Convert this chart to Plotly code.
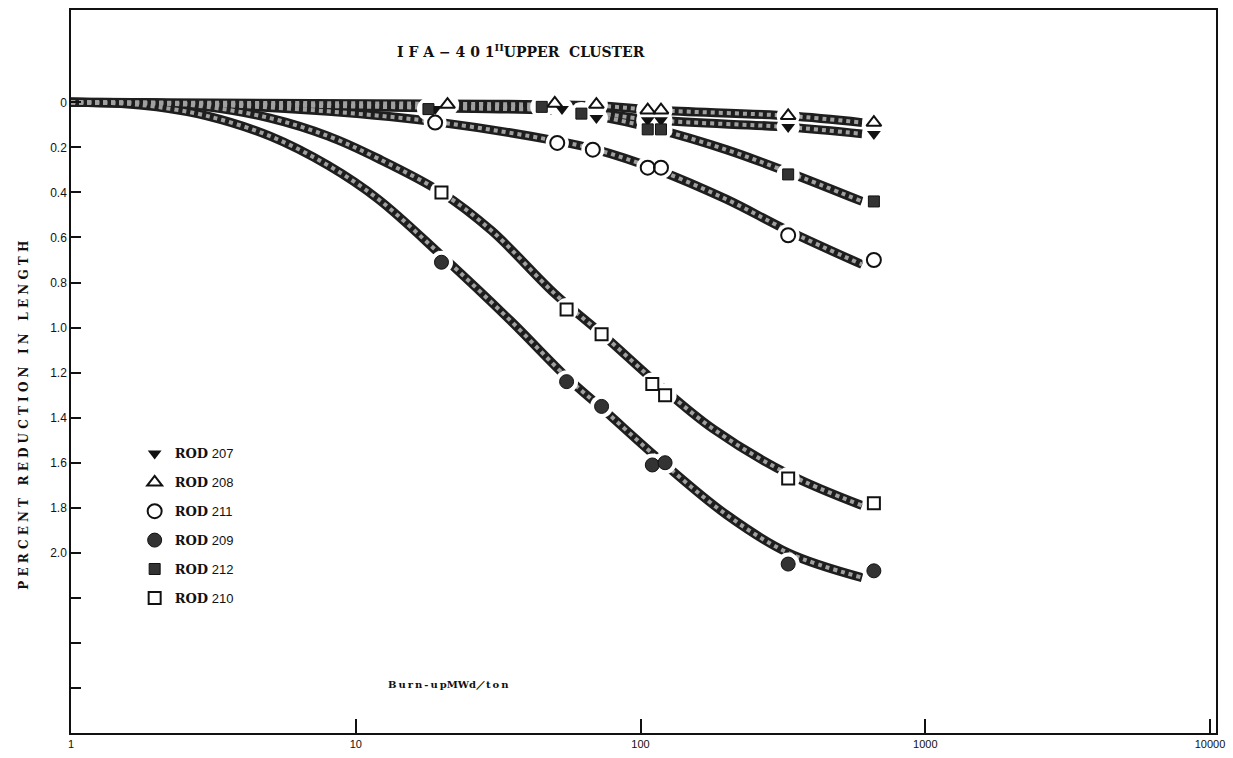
import plotly.graph_objects as go

# Burn-up (MWd/ton) and percent reduction in length for each rod: measured points
rod_ids = ["207", "208", "211", "209", "212", "210"]

rod207_x = [19, 53, 70, 106, 118, 330, 660]
rod207_y = [0.03, 0.03, 0.07, 0.08, 0.08, 0.11, 0.14]

rod208_x = [21, 50, 70, 106, 118, 330, 660]
rod208_y = [0.01, 0.005, 0.01, 0.035, 0.035, 0.06, 0.09]

rod211_x = [19, 51, 68, 106, 118, 330, 660]
rod211_y = [0.09, 0.18, 0.21, 0.29, 0.29, 0.59, 0.70]

rod209_x = [20, 55, 73, 110, 122, 330, 660]
rod209_y = [0.71, 1.24, 1.35, 1.61, 1.60, 2.05, 2.08]

rod212_x = [18, 45, 62, 106, 118, 330, 660]
rod212_y = [0.03, 0.02, 0.05, 0.12, 0.12, 0.32, 0.44]

rod210_x = [20, 55, 73, 110, 122, 330, 660]
rod210_y = [0.40, 0.92, 1.03, 1.25, 1.30, 1.67, 1.78]

# Hand-fitted trend curves (knots)
fit207_x = [1, 20, 60, 115, 330, 600]
fit207_y = [0, 0.025, 0.04, 0.08, 0.11, 0.14]
fit208_x = [1, 30, 70, 115, 330, 600]
fit208_y = [0, 0.008, 0.015, 0.035, 0.06, 0.09]
fit211_x = [1, 3, 8, 20, 50, 70, 115, 200, 330, 600]
fit211_y = [0, 0.01, 0.04, 0.09, 0.17, 0.21, 0.30, 0.43, 0.57, 0.72]
fit209_x = [1, 1.5, 2, 3, 5, 8, 12, 20, 35, 55, 75, 115, 200, 330, 600]
fit209_y = [0, 0.005, 0.02, 0.06, 0.15, 0.28, 0.43, 0.68, 0.97, 1.22, 1.37, 1.58, 1.83, 2.0, 2.11]
fit212_x = [1, 20, 45, 70, 115, 200, 330, 600]
fit212_y = [0, 0.02, 0.025, 0.06, 0.12, 0.21, 0.31, 0.44]
fit210_x = [1, 2, 3, 5, 8, 12, 20, 30, 50, 75, 115, 180, 330, 600]
fit210_y = [0, 0.003, 0.02, 0.07, 0.15, 0.25, 0.40, 0.57, 0.85, 1.04, 1.25, 1.45, 1.65, 1.79]

x_tick_vals = [1, 10, 100, 1000, 10000]
x_tick_text = ["1", "10", "100", "1000", "10000"]
y_tick_vals = [0, 0.2, 0.4, 0.6, 0.8, 1.0, 1.2, 1.4, 1.6, 1.8, 2.0, 2.2, 2.4, 2.6]
y_tick_text = ["0", "0.2", "0.4", "0.6", "0.8", "1.0", "1.2", "1.4", "1.6", "1.8", "2.0", "", "", ""]

points = {
    "207": (rod207_x, rod207_y),
    "208": (rod208_x, rod208_y),
    "211": (rod211_x, rod211_y),
    "209": (rod209_x, rod209_y),
    "212": (rod212_x, rod212_y),
    "210": (rod210_x, rod210_y),
}
fits = {
    "207": (fit207_x, fit207_y),
    "208": (fit208_x, fit208_y),
    "211": (fit211_x, fit211_y),
    "209": (fit209_x, fit209_y),
    "212": (fit212_x, fit212_y),
    "210": (fit210_x, fit210_y),
}
symbols = {
    "207": dict(symbol="triangle-down", size=12, color="#111111", line=dict(width=0)),
    "208": dict(symbol="triangle-up-open", size=13, color="#111111", line=dict(width=2, color="#111111")),
    "211": dict(symbol="circle-open", size=14, color="#111111", line=dict(width=2, color="#111111")),
    "209": dict(symbol="circle", size=14, color="#333333", line=dict(width=1, color="#111111")),
    "212": dict(symbol="square", size=11, color="#333333", line=dict(width=1, color="#111111")),
    "210": dict(symbol="square-open", size=12, color="#111111", line=dict(width=2, color="#111111")),
}

THIN = "\u2009"


def spaced(word):
    """Letter-space a word with thin spaces, typewriter style."""
    return THIN.join(word)


fig = go.Figure()

# thick dark outline of each trend band
for rid in rod_ids:
    fx, fy = fits[rid]
    fig.add_trace(go.Scatter(x=fx, y=fy, mode="lines", showlegend=False, hoverinfo="skip",
                             line=dict(color="#1e1e1e", width=9, shape="spline", smoothing=1)))
# lighter stippled core
for rid in rod_ids:
    fx, fy = fits[rid]
    fig.add_trace(go.Scatter(x=fx, y=fy, mode="lines", showlegend=False, hoverinfo="skip",
                             line=dict(color="#a0a0a0", width=4, shape="spline", smoothing=1, dash="dot")))
# white halos that break the bands around each measured point
for rid in rod_ids:
    px, py = points[rid]
    fig.add_trace(go.Scatter(x=px, y=py, mode="markers", showlegend=False, hoverinfo="skip",
                             marker=dict(symbol="circle", size=23, color="white", line=dict(width=0))))
# measured points
for rid in rod_ids:
    px, py = points[rid]
    fig.add_trace(go.Scatter(
        x=px, y=py, mode="markers",
        name="<b>ROD</b><span style='font-family:Liberation Sans'> " + rid + "</span>",
        legendgroup=rid, marker=symbols[rid]))

# rod number next to the last point of each series
for rid in rod_ids:
    px, py = points[rid]
    fig.add_annotation(x=px[-1], y=py[-1], xref="x", yref="y", text=rid, showarrow=False,
                       xanchor="left", xshift=19, yshift=2,
                       font=dict(family="Liberation Sans", size=13, color="#111111"))

fig.add_annotation(x=0.393, y=0.958, xref="paper", yref="paper", showarrow=False,
                   text="I F A − 4 0 1<sup>II</sup>UPPER  CLUSTER",
                   font=dict(family="DejaVu Serif", size=14, color="#111111", weight="bold"))

fig.add_annotation(x=0.275, y=0.056, xref="paper", yref="paper", showarrow=False, xanchor="left",
                   text=spaced("Burn-up") + "MWd／" + spaced("ton"),
                   font=dict(family="DejaVu Serif", size=10, color="#111111", weight="bold"))

fig.add_annotation(x=-0.049, y=0.44, xref="paper", yref="paper", showarrow=False, textangle=-90,
                   text="P E R C E N T   R E D U C T I O N   I N   L E N G T H",
                   font=dict(family="DejaVu Serif", size=12, color="#111111", weight="bold"))

fig.update_xaxes(type="log", range=[0, 4.021], tickvals=x_tick_vals, ticktext=x_tick_text,
                 ticks="inside", ticklen=14, tickwidth=1.5, tickcolor="#111111",
                 showline=True, linecolor="#111111", linewidth=1.5, mirror=True,
                 showgrid=False, zeroline=False,
                 tickfont=dict(family="Liberation Sans", size=11, color="#111111"))
fig.update_yaxes(range=[2.80, -0.41], tickvals=y_tick_vals, ticktext=y_tick_text,
                 ticks="inside", ticklen=10, tickwidth=1.5, tickcolor="#111111",
                 showline=True, linecolor="#111111", linewidth=1.5, mirror=True,
                 showgrid=False, zeroline=False,
                 tickfont=dict(family="Liberation Sans", size=12, color="#111111"))

fig.update_layout(
    width=1233, height=758,
    margin=dict(l=71, r=10, t=8, b=21),
    paper_bgcolor="white", plot_bgcolor="white",
    legend=dict(x=0.0556, y=0.4074, xanchor="left", yanchor="top",
                bgcolor="rgba(0,0,0,0)", tracegroupgap=9, itemwidth=30,
                font=dict(family="DejaVu Serif", size=13, color="#111111")),
)

fig.write_html("out.html")
